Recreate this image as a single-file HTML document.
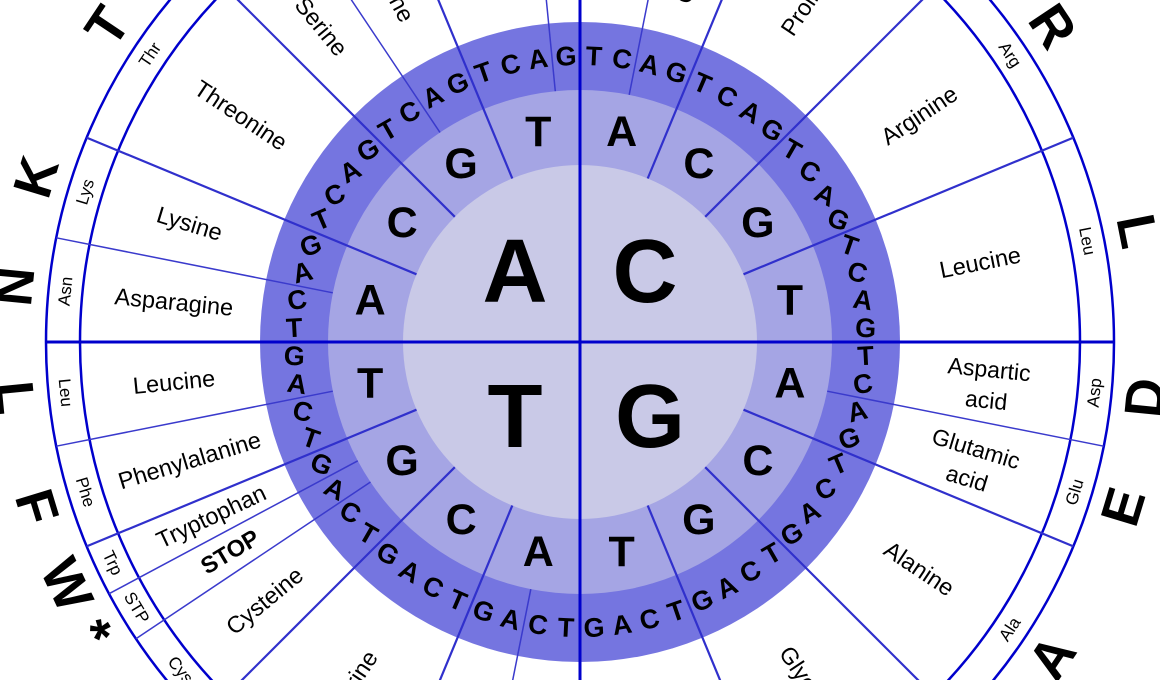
<!DOCTYPE html>
<html><head><meta charset="utf-8">
<style>
html,body{margin:0;padding:0;background:#fff;width:1160px;height:680px;overflow:hidden}
svg{display:block}
text{font-family:"Liberation Sans",Arial,sans-serif}
</style></head>
<body>
<svg id="s" width="1160" height="680" viewBox="0 0 1160 680" xmlns="http://www.w3.org/2000/svg">
<circle cx="580" cy="342" r="320" fill="#7575e0"/>
<circle cx="580" cy="342" r="252" fill="#a5a5e4"/>
<circle cx="580" cy="342" r="177" fill="#c9c9e7"/>
<circle cx="580" cy="342" r="500" fill="none" stroke="#0000cc" stroke-width="2.5"/>
<circle cx="580" cy="342" r="534" fill="none" stroke="#0000cc" stroke-width="2.5"/>
<g id="g"></g>
</svg>
<script>
(function(){
var cx=580,cy=342,u=5.625,out='';
function P(r,t){var a=t*Math.PI/180;return [cx+r*Math.sin(a),cy-r*Math.cos(a)];}
function line(r1,r2,t,w,c){var a=P(r1,t),b=P(r2,t);out+='<line x1="'+a[0].toFixed(1)+'" y1="'+a[1].toFixed(1)+'" x2="'+b[0].toFixed(1)+'" y2="'+b[1].toFixed(1)+'" stroke="'+c+'" stroke-width="'+w+'"/>';}
function txt(s,r,t,rot,size,bold,extra){var p=P(r,t);out+='<text x="'+p[0].toFixed(1)+'" y="'+p[1].toFixed(1)+'" font-size="'+size+'" '+(bold?'font-weight="bold" ':'')+'text-anchor="middle" dominant-baseline="central" transform="rotate('+rot.toFixed(1)+' '+p[0].toFixed(1)+' '+p[1].toFixed(1)+')"'+(extra||'')+'>'+s+'</text>';}
function tang(t){return (t<90||t>270)?t:t-180;}
function rad(t){return t<180?t-90:t-270;}
var seg=[[0,2,'Histidine','His','H'],[2,4,'Glutamine','Gln','Q'],[4,8,'Proline','Pro','P'],[8,12,'Arginine','Arg','R'],[12,16,'Leucine','Leu','L'],
[16,18,'Aspartic|acid','Asp','D'],[18,20,'Glutamic|acid','Glu','E'],[20,24,'Alanine','Ala','A'],[24,28,'Glycine','Gly','G'],[28,32,'Valine','Val','V'],
[32,34,'Tyrosine','Tyr','Y'],[34,36,'<tspan font-weight="bold">STOP</tspan>','STP','*'],[36,40,'Serine','Ser','S'],[40,42,'Cysteine','Cys','C'],[42,43,'<tspan font-weight="bold">STOP</tspan>','STP','*'],[43,44,'Tryptophan','Trp','W'],
[44,46,'Phenylalanine','Phe','F'],[46,48,'Leucine','Leu','L'],[48,50,'Asparagine','Asn','N'],[50,52,'Lysine','Lys','K'],[52,56,'Threonine','Thr','T'],
[56,58,'Serine','Ser','S'],[58,60,'Arginine','Arg','R'],[60,63,'Isoleucine','Ile','I'],[63,64,'Methionine','Met','M']];
for(var i=0;i<seg.length;i++){var s=seg[i][0],t=s*u;
 if(s%16==0){}else if(s%4==0){line(177,534,t,2.2,'#3030cc');}else{line(252,534,t,1.5,'#3a3acc');}}
line(-534,534,0,3,'#0000cc');line(-534,534,90,3,'#0000cc');
for(var i=0;i<seg.length;i++){var sg=seg[i],t=(sg[0]+sg[1])/2*u;
 var nm=sg[2];
 if(nm.indexOf('|')>=0){var parts=nm.split('|');var p=P(410,t);var r=rad(t);
  out+='<text x="'+p[0].toFixed(1)+'" y="'+p[1].toFixed(1)+'" font-size="23" text-anchor="middle" transform="rotate('+r.toFixed(1)+' '+p[0].toFixed(1)+' '+p[1].toFixed(1)+')"><tspan x="'+p[0].toFixed(1)+'" dy="-5">'+parts[0]+'</tspan><tspan x="'+p[0].toFixed(1)+'" dy="31">'+parts[1]+'</tspan></text>';}
 else txt(nm,408,t,rad(t),23.5,false);
 txt(sg[3],517,t,tang(t),17,false);
 txt(sg[4],568,t,tang(t),54,true);
}
var B=['A','C','G','T'];
for(var q=0;q<4;q++)for(var k=0;k<4;k++){var t=q*90+(k+0.5)*22.5;txt(B[k],214,t,0,43,true);}
var N=['T','C','A','G'];
for(var j=0;j<64;j++){var t=(j+0.5)*u;txt(N[j%4],286,t,30*Math.sin(2*t*Math.PI/180),27,true);}
out+='<text x="515" y="272" font-size="90" font-weight="bold" text-anchor="middle" dominant-baseline="central">A</text>';
out+='<text x="645" y="272" font-size="90" font-weight="bold" text-anchor="middle" dominant-baseline="central">C</text>';
out+='<text x="515" y="417" font-size="90" font-weight="bold" text-anchor="middle" dominant-baseline="central">T</text>';
out+='<text x="650" y="417" font-size="90" font-weight="bold" text-anchor="middle" dominant-baseline="central">G</text>';
document.getElementById('g').innerHTML=out;
})();
</script>
</body></html>
